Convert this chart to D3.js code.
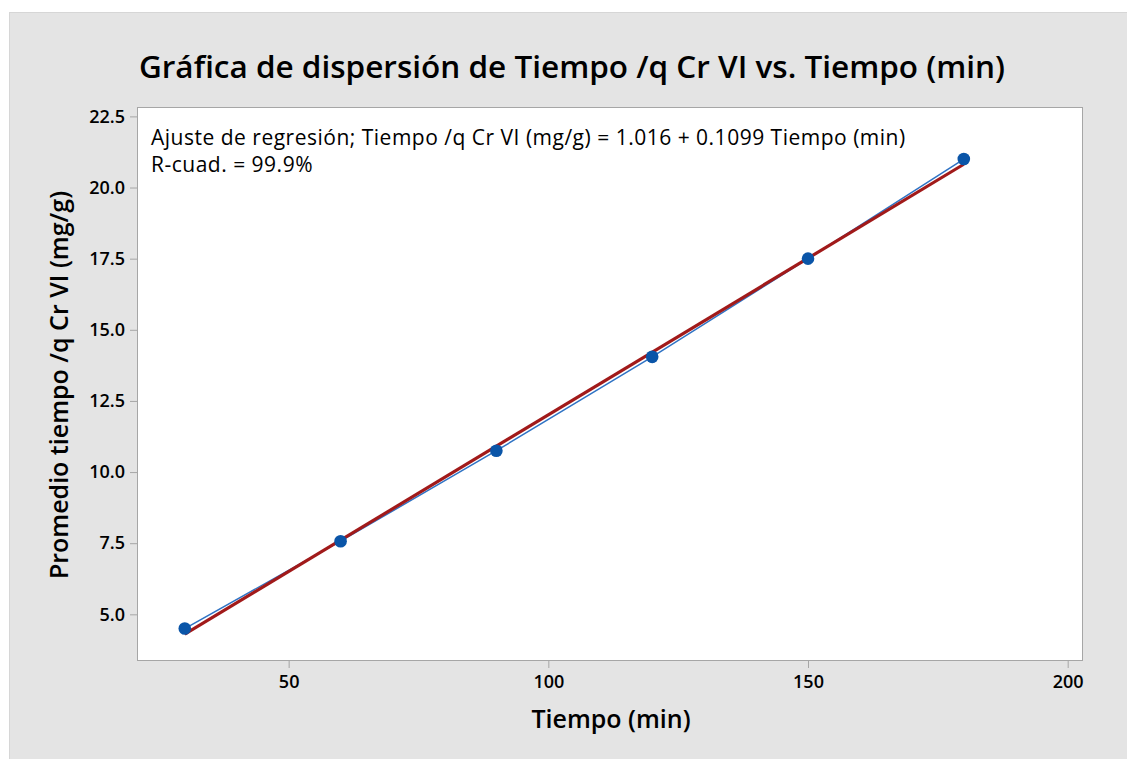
<!DOCTYPE html>
<html><head><meta charset="utf-8">
<script src="https://cdn.jsdelivr.net/npm/d3@7"></script>
<style>body{margin:0;background:#fff}svg{display:block}</style>
</head><body>
<script>
const tiempo = [30, 60, 90, 120, 150, 180];
const promedio = [4.50, 7.57, 10.75, 14.05, 17.50, 21.00];
const xTicks = [50, 100, 150, 200];
const yTicks = [5.0, 7.5, 10.0, 12.5, 15.0, 17.5, 20.0, 22.5];
const titleText = "Gráfica de dispersión de Tiempo /q Cr VI vs. Tiempo (min)";
const xLabel = "Tiempo (min)";
const yLabel = "Promedio tiempo /q Cr VI (mg/g)";
const annot1 = "Ajuste de regresión; Tiempo /q Cr VI (mg/g) = 1.016 + 0.1099 Tiempo (min)";
const annot2 = "R-cuad. = 99.9%";

const W = 1127, H = 759;
const L = 137, R = 1083, T = 107, B = 661;
const font = "'Open Sans', 'Noto Sans', sans-serif";

const svg = d3.select("body").append("svg").attr("width", W).attr("height", H);
svg.append("rect").attr("x", 9.5).attr("y", 12.5).attr("width", W).attr("height", H)
  .attr("fill", "#e4e4e4").attr("stroke", "#d6d6d6");

const x = d3.scaleLinear().domain([20.8, 202.95]).range([L, R]);
const y = d3.scaleLinear().domain([3.36, 22.83]).range([B, T]);

svg.append("rect").attr("x", L + 0.5).attr("y", T + 0.5).attr("width", R - L - 1).attr("height", B - T - 1)
  .attr("fill", "#fff").attr("stroke", "#a6a6a6").attr("stroke-width", 1);

// axes
const xAxis = svg.append("g").attr("transform", `translate(0,${B})`)
  .call(d3.axisBottom(x).tickValues(xTicks).tickFormat(d3.format("d")).tickSize(7).tickPadding(5));
const yAxis = svg.append("g").attr("transform", `translate(${L},0)`)
  .call(d3.axisLeft(y).tickValues(yTicks).tickFormat(d3.format(".1f")).tickSize(7).tickPadding(5));
[xAxis, yAxis].forEach(a => {
  a.select(".domain").remove();
  a.selectAll(".tick line").attr("stroke", "#a6a6a6");
  a.selectAll(".tick text").attr("fill", "#000").style("font-family", font)
    .style("font-size", "18px").style("font-weight", "600");
});
xAxis.selectAll(".tick text").attr("dy", "0.85em");

// regression fit computed from data
const mx = d3.mean(tiempo), my = d3.mean(promedio);
const slope = d3.sum(tiempo, (t, i) => (t - mx) * (promedio[i] - my)) / d3.sum(tiempo, t => (t - mx) ** 2);
const icpt = my - slope * mx;
const x0 = d3.min(tiempo), x1 = d3.max(tiempo);

const pts = tiempo.map((t, i) => [t, promedio[i]]);
svg.append("path").datum(pts)
  .attr("d", d3.line().x(d => x(d[0])).y(d => y(d[1])))
  .attr("fill", "none").attr("stroke", "#2f73c4").attr("stroke-width", 1.5);

svg.append("line")
  .attr("x1", x(x0)).attr("y1", y(icpt + slope * x0))
  .attr("x2", x(x1)).attr("y2", y(icpt + slope * x1))
  .attr("stroke", "#a11a1a").attr("stroke-width", 3.2);

svg.append("g").selectAll("circle").data(pts).join("circle")
  .attr("cx", d => x(d[0])).attr("cy", d => y(d[1])).attr("r", 6.3)
  .attr("fill", "#0a55a8");

// texts
svg.append("text").attr("x", 572).attr("y", 78).attr("text-anchor", "middle")
  .style("font-family", font).style("font-size", "31.5px").style("font-weight", "600")
  .text(titleText);
svg.append("text").attr("x", 611).attr("y", 728).attr("text-anchor", "middle")
  .style("font-family", font).style("font-size", "25px").style("font-weight", "600")
  .text(xLabel);
svg.append("text").attr("transform", "translate(68,385) rotate(-90)").attr("text-anchor", "middle")
  .style("font-family", font).style("font-size", "25px").style("font-weight", "600")
  .text(yLabel);
svg.append("text").attr("x", 151).attr("y", 145)
  .style("font-family", font).style("font-size", "21px").style("letter-spacing", "0.5px").text(annot1);
svg.append("text").attr("x", 151).attr("y", 172)
  .style("font-family", font).style("font-size", "21px").style("letter-spacing", "0.5px").text(annot2);
</script>
</body></html>
